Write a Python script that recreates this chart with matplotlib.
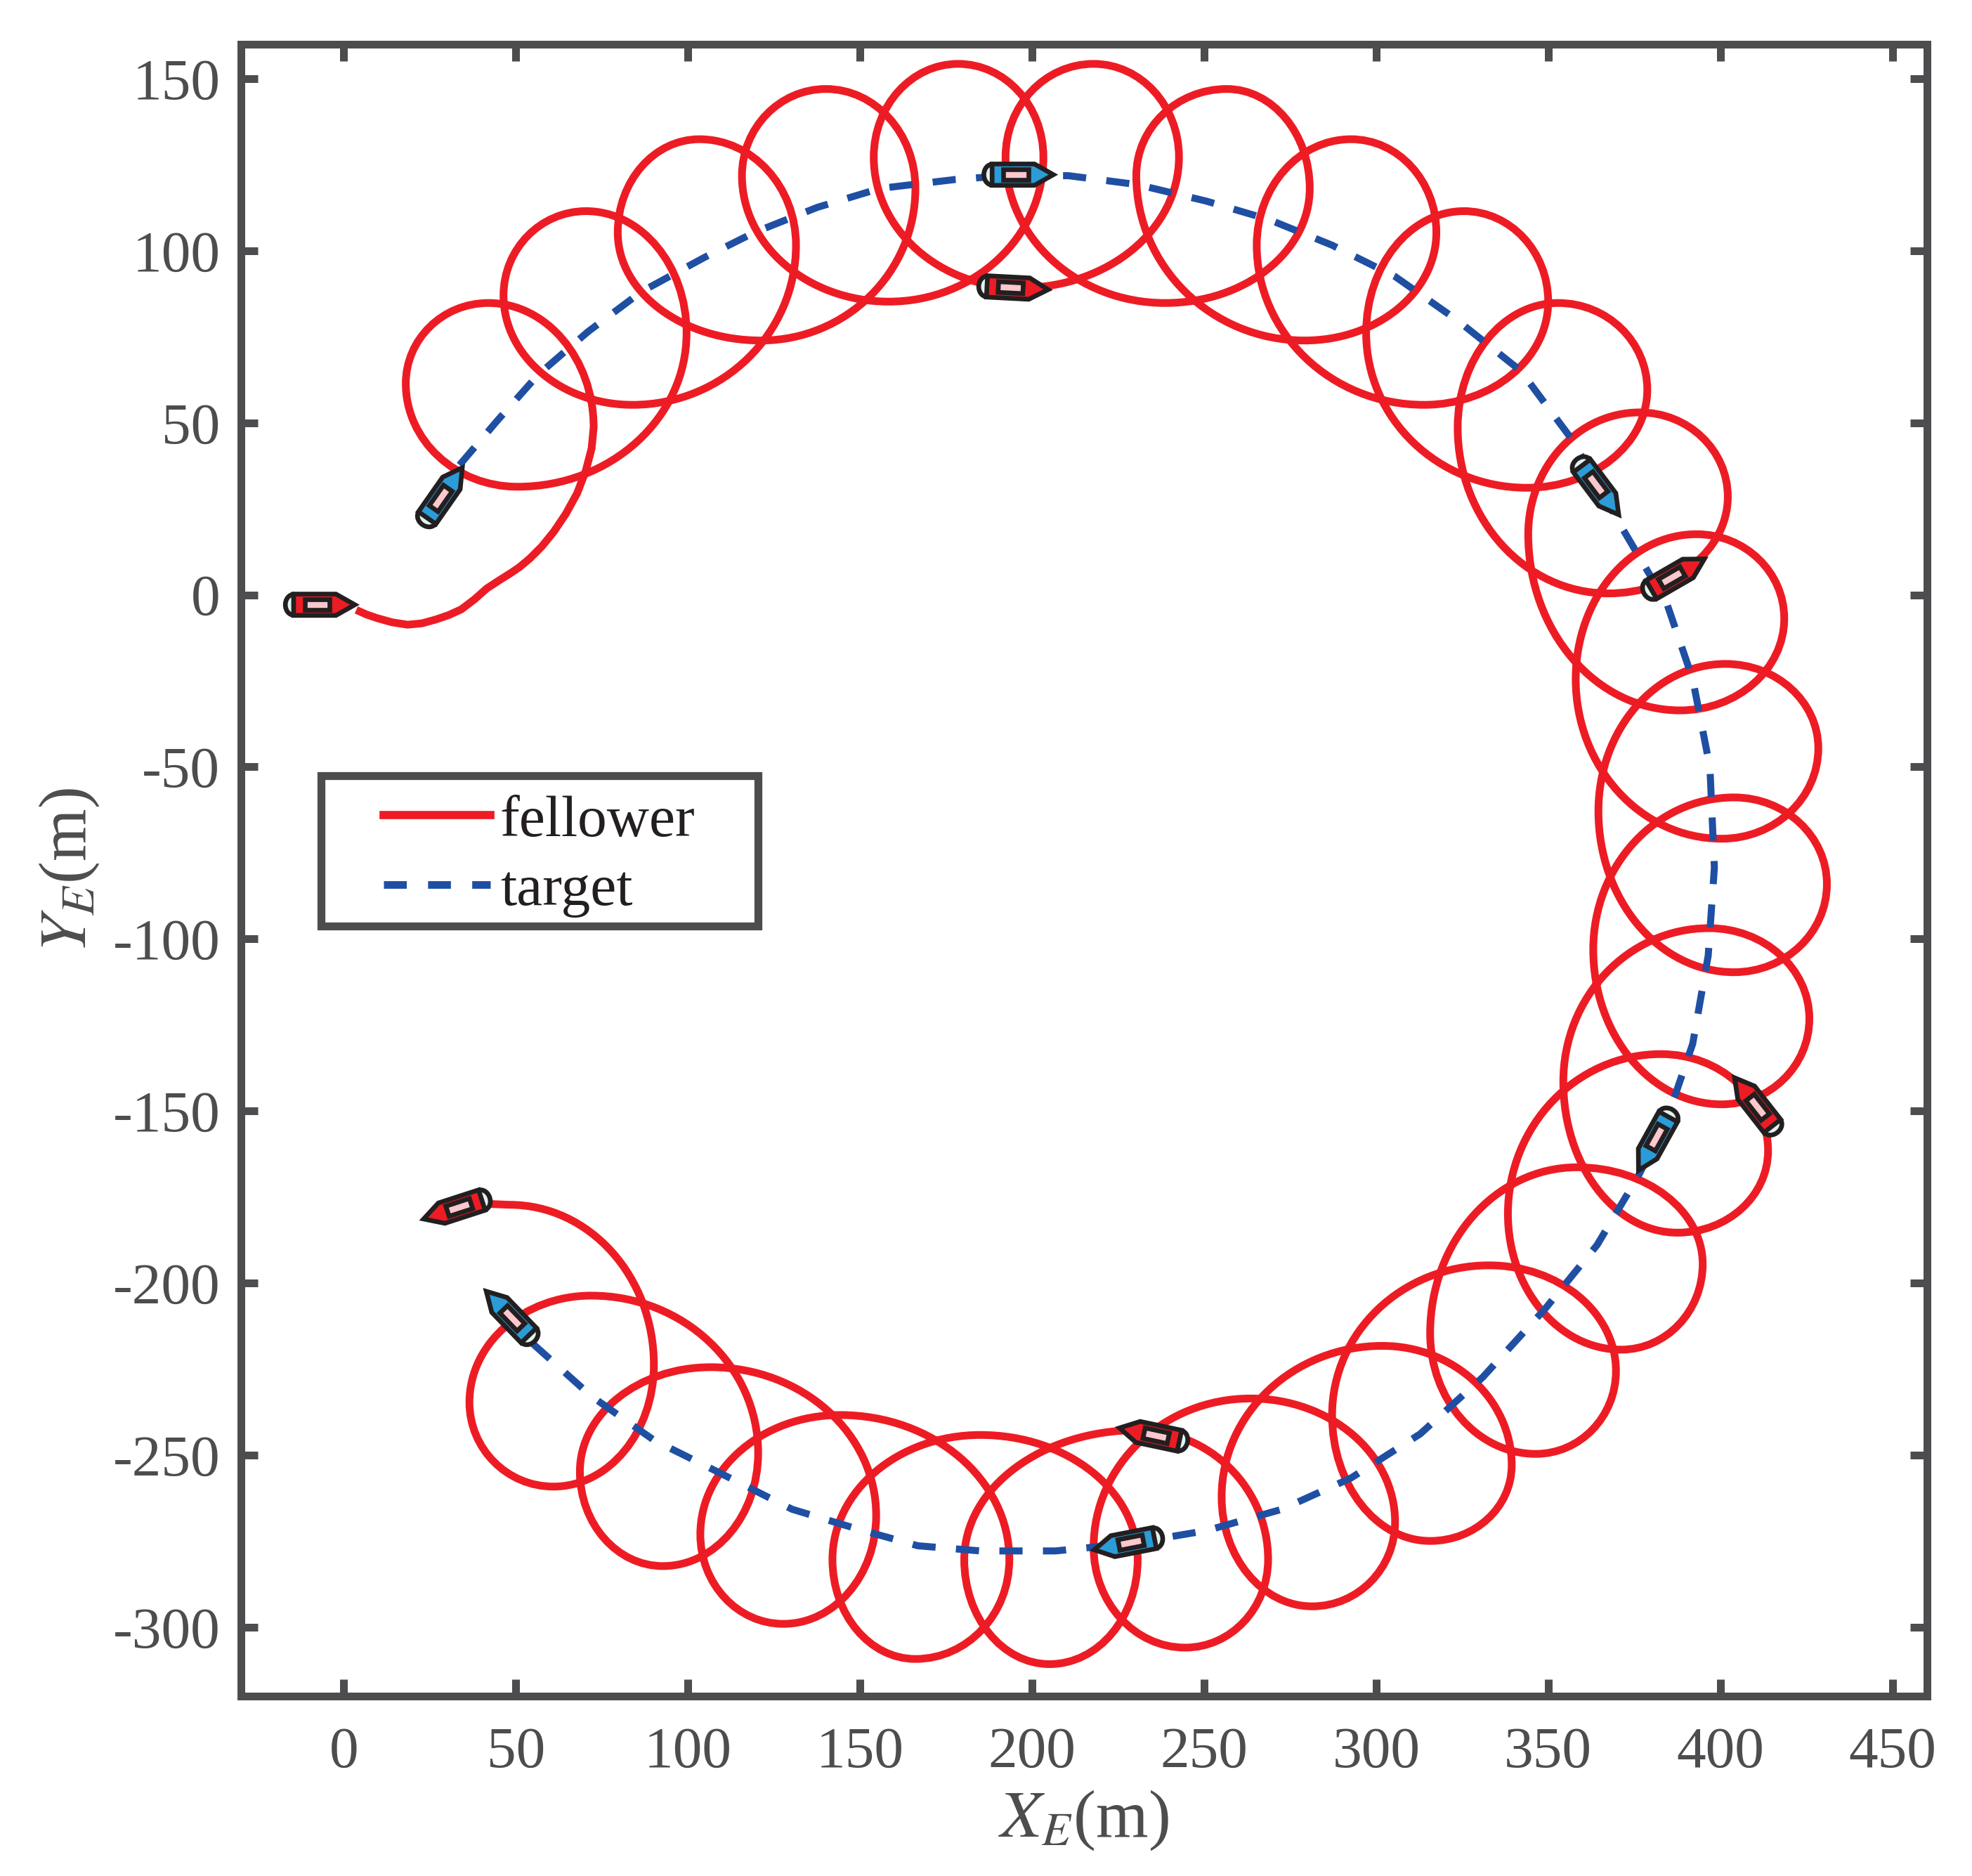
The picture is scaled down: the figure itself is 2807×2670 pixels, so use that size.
import matplotlib
matplotlib.use("Agg")
import matplotlib.pyplot as plt
from matplotlib.lines import Line2D
from matplotlib.patches import Ellipse, PathPatch, Polygon, Rectangle
from matplotlib.path import Path
from matplotlib.transforms import Affine2D

plt.rcParams["font.family"] = ["Liberation Serif", "DejaVu Serif"]
plt.rcParams["mathtext.fontset"] = "stix"
plt.rcParams["axes.unicode_minus"] = False

RED = "#ed1c24"
BLUE = "#1f4fa3"
GREY = "#4d4d4f"
INK = "#231f20"

# fellower track before the first loop
lead_x = [3.6, 6.5, 9.7, 14.0, 18.5, 22.7, 26.7, 30.5, 34.2, 38.0, 41.5, 45.0, 48.5, 51.0, 54.0,
          57.5, 61.0, 64.5, 67.8, 70.3, 72.0]
lead_y = [-4.4, -5.7, -6.8, -8.0, -8.7, -8.3, -7.2, -5.9, -4.2, -1.3, 1.8, 4.1, 6.3, 8.0, 10.5,
          14.0, 18.3, 23.5, 29.5, 36.0, 42.5]

# loop extremes, in the order right, top, left, bottom, right, ...
loop_x = [72.6, 42.0, 18.0, 50.5, 99.6, 70.4, 46.4, 83.9, 131.4, 103.3, 79.6, 121.2,
          166.1, 140.1, 115.7, 158.4, 203.3, 178.5, 154.0, 196.7, 242.7, 217.9, 192.3, 238.7,
          280.7, 256.6, 230.3, 279.2, 317.5, 292.7, 265.3, 313.9, 350.0, 325.5, 297.1, 343.8,
          378.8, 352.9, 323.7, 367.5, 402.2, 376.6, 344.2, 388.3, 418.6, 393.1, 358.0, 400.4,
          428.5, 401.5, 364.6, 404.0, 431.0, 404.0, 363.1, 400.4, 425.9, 396.7, 354.4, 387.6,
          413.9, 382.8, 338.3, 371.2, 394.9, 358.4, 315.7, 346.4, 369.7, 332.8, 287.2, 315.7,
          339.4, 301.8, 255.1, 281.4, 305.5, 263.5, 217.9, 244.5, 268.6, 230.7, 180.3, 205.1,
          230.7, 185.0, 142.0, 166.1, 193.4, 144.2, 103.6, 127.7, 154.7, 106.6, 68.6, 92.7,
          120.4, 71.9, 36.5, 60.9, 90.1, 48.2]
loop_y = [48.6, 84.8, 61.4, 31.4, 76.1, 111.5, 87.0, 55.2, 101.6, 132.4, 105.3, 73.9,
          118.1, 147.0, 121.8, 85.2, 127.2, 154.3, 127.2, 89.2, 127.2, 154.3, 127.2, 84.8,
          118.1, 147.0, 121.8, 73.9, 105.3, 132.4, 101.6, 55.2, 85.2, 111.5, 76.1, 31.1,
          59.6, 84.8, 48.6, 0.4, 28.5, 53.0, 17.6, -33.6, -6.9, 17.6, -24.5, -70.9,
          -44.6, -20.1, -62.9, -109.7, -84.1, -58.9, -103.1, -148.1, -123.2, -96.9, -141.5, -185.4,
          -161.6, -133.5, -179.9, -219.4, -194.5, -166.4, -214.6, -249.7, -225.6, -194.9, -238.4, -275.0,
          -253.0, -218.3, -262.2, -294.0, -269.5, -233.6, -276.8, -306.0, -280.4, -242.8, -280.4, -310.8,
          -280.4, -244.2, -280.4, -309.3, -280.4, -238.4, -273.1, -299.1, -267.6, -224.5, -254.8, -282.3,
          -249.4, -203.7, -234.7, -259.2, -223.8, -177.3]

tail_x = [40.9]
tail_y = [-177.0]

target_x = [33.6, 44.5, 56.5, 71.0, 86.5, 104.7, 119.3, 137.6, 155.8, 177.7, 192.3, 210.6,
            230.7, 250.7, 269.0, 287.2, 305.5, 323.7, 342.0, 357.0, 371.5, 384.5, 392.0, 397.0,
            398.3, 396.5, 392.0, 384.5, 376.2, 364.2, 349.3, 331.0, 312.8, 292.7, 272.6, 250.7,
            228.8, 206.9, 185.0, 166.8, 148.5, 130.3, 108.4, 90.1, 71.9, 53.6]
target_y = [37.7, 50.5, 64.0, 76.5, 88.1, 98.0, 105.3, 112.6, 118.1, 120.7, 121.8, 121.8,
            119.2, 114.4, 109.0, 101.6, 92.5, 79.7, 65.1, 45.0, 19.4, -2.6, -24.5, -50.1,
            -79.3, -104.9, -130.5, -152.5, -168.9, -189.0, -207.3, -227.4, -243.9, -256.7, -265.8, -272.0,
            -275.7, -277.9, -277.9, -276.4, -271.3, -265.8, -254.8, -245.7, -232.9, -216.5]

# ship snapshots: centre x, centre y, heading in degrees
fellower_ship_x = [-6.6, 194.9, 386.9, 410.2, 235.0, 32.5]
fellower_ship_y = [-2.9, 89.2, 5.5, -148.1, -244.2, -178.4]
fellower_ship_h = [0, -3, 30, 128, 168, 198]
target_ship_x = [28.8, 196.4, 364.6, 381.0, 227.7, 48.2]
target_ship_y = [28.9, 122.1, 31.1, -158.7, -275.7, -209.5]
target_ship_h = [55, 0, -53, 241, 191, 134]

xticks = list(range(0, 451, 50))
yticks = list(range(-300, 151, 50))


def fellower_path():
    # quarter arcs between extremes, the tangent is vertical at left/right, horizontal at top/bottom
    verts = [(lead_x[0], lead_y[0])]
    codes = [Path.MOVETO]
    for x, y in zip(lead_x[1:], lead_y[1:]):
        verts.append((x, y))
        codes.append(Path.LINETO)
    k = 0.5523
    verts.append((loop_x[0], loop_y[0]))
    codes.append(Path.LINETO)
    for i in range(len(loop_x) - 1):
        x0, y0 = loop_x[i], loop_y[i]
        x1, y1 = loop_x[i + 1], loop_y[i + 1]
        if i % 2 == 0:
            c1 = (x0, y0 + k * (y1 - y0))
            c2 = (x1 - k * (x1 - x0), y1)
        else:
            c1 = (x0 + k * (x1 - x0), y0)
            c2 = (x1, y1 - k * (y1 - y0))
        verts += [c1, c2, (x1, y1)]
        codes += [Path.CURVE4, Path.CURVE4, Path.CURVE4]
    for x, y in zip(tail_x, tail_y):
        verts.append((x, y))
        codes.append(Path.LINETO)
    return Path(verts, codes)


def draw_ship(ax, x, y, heading, color):
    tr = Affine2D().rotate_deg(heading).translate(x, y) + ax.transData
    ax.add_patch(Ellipse((-8.0, 0), 4.8, 6.0, facecolor="#dff3ef", edgecolor=INK,
                         linewidth=1.6, transform=tr, zorder=5))
    hull = [(-8.0, -3.1), (4.3, -3.1), (9.8, 0), (4.3, 3.1), (-8.0, 3.1)]
    ax.add_patch(Polygon(hull, closed=True, facecolor=color, edgecolor=INK,
                         linewidth=1.6, joinstyle="miter", transform=tr, zorder=6))
    cabin = [(-4.7, -1.55), (2.5, -1.55), (2.5, 1.55), (-4.7, 1.55)]
    ax.add_patch(Polygon(cabin, closed=True, facecolor="#fbc8ce", edgecolor=INK,
                         linewidth=1.6, joinstyle="miter", transform=tr, zorder=7))


fig = plt.figure(figsize=(2807 / 300, 2670 / 300), dpi=300)
ax = fig.add_axes([342.5 / 2807, 1 - 2413.5 / 2670, 2400 / 2807, 2350.5 / 2670])

ax.add_patch(PathPatch(fellower_path(), facecolor="none", edgecolor=RED, linewidth=2.64, zorder=3))
ax.plot(target_x, target_y, color=BLUE, linewidth=2.4, dashes=(3.3, 2.9), dash_capstyle="butt", zorder=4)

for x, y, h in zip(fellower_ship_x, fellower_ship_y, fellower_ship_h):
    draw_ship(ax, x, y, h, RED)
for x, y, h in zip(target_ship_x, target_ship_y, target_ship_h):
    draw_ship(ax, x, y, h, "#2b9cd8")

ax.set_xlim(-30, 460)
ax.set_ylim(-320, 160)
ax.set_xticks(xticks)
ax.set_yticks(yticks)
ax.tick_params(axis="x", direction="in", top=True, width=2.64, length=5.8, color=GREY,
               labelcolor=GREY, labelsize=20, pad=10.5)
ax.tick_params(axis="y", direction="in", right=True, width=2.64, length=5.8, color=GREY,
               labelcolor=GREY, labelsize=20, pad=7)
for side, spine in ax.spines.items():
    spine.set_color(GREY)
    spine.set_linewidth(2.64)

ax.set_xlabel("$X_E$(m)", fontsize=23, color=GREY, labelpad=3)
ax.set_ylabel("$Y_E$(m)", fontsize=23, color=GREY, labelpad=4)

# legend frame is wider than a matplotlib legend would pad it, so it is drawn separately
ax.add_patch(Rectangle((0.0477, 0.466), 0.2592, 0.091, transform=ax.transAxes, facecolor="white",
                       edgecolor=GREY, linewidth=2.7, joinstyle="miter", zorder=8))
handles = [Line2D([], [], color=RED, linewidth=2.8),
           Line2D([], [], color=BLUE, linewidth=2.6, dashes=(3.0, 2.8), dash_capstyle="butt")]
leg = ax.legend(handles, ["fellower", "target"], loc="upper left", bbox_to_anchor=(0.0848, 0.5455),
                fontsize=20, frameon=False, borderaxespad=0, borderpad=0, handlelength=1.82,
                handletextpad=0.168, labelspacing=0.27, labelcolor=INK)
leg.set_zorder(9)

fig.savefig("out.png", dpi=300)
